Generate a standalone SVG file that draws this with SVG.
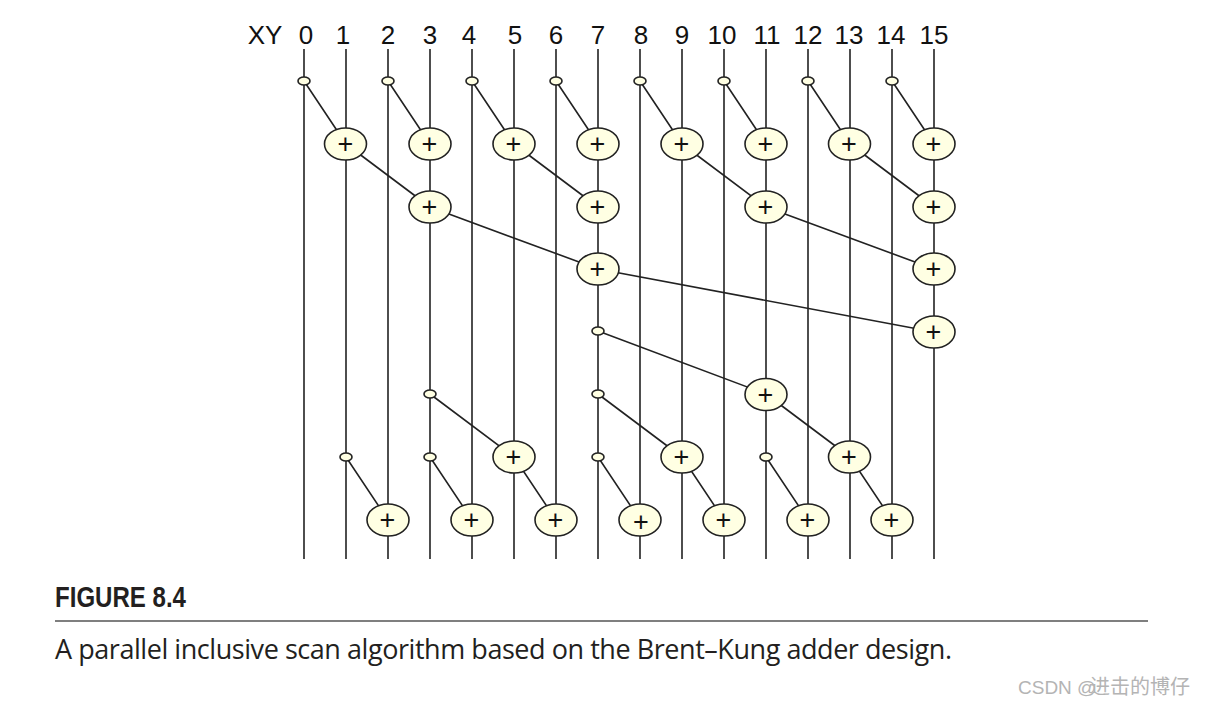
<svg xmlns="http://www.w3.org/2000/svg" width="1205" height="706" viewBox="0 0 1205 706">
<style>
.w{stroke:#222;stroke-width:1.6;fill:none}
.o{fill:#ffffe3;stroke:#222;stroke-width:1.6}
.p{font:27px "Liberation Sans",Arial,sans-serif;fill:#111;text-anchor:middle}
.h{font:26px "Liberation Sans",Arial,sans-serif;fill:#111;text-anchor:middle}
</style>
<rect width="1205" height="706" fill="#fff"/>
<g id="connectors" class="w">
<path d="M304 49V559M346 49V559M388 49V559M430 49V559M472 49V559M514 49V559M556 49V559M598 49V559M640 49V559M682 49V559M724 49V559M766 49V559M808 49V559M850 49V559M892 49V559M934 49V559"/>
<path d="M304 81L346 144M388 81L430 144M472 81L514 144M556 81L598 144M640 81L682 144M724 81L766 144M808 81L850 144M892 81L934 144"/>
<path d="M346 144L430 207M514 144L598 207M682 144L766 207M850 144L934 207"/>
<path d="M430 207L598 269M766 207L934 269M598 269L934 332"/>
<path d="M598 331L766 394M430 394L514 457M598 394L682 457M766 394L850 457"/>
<path d="M346 457L388 520M430 457L472 520M514 457L556 520M598 457L640 520M682 457L724 520M766 457L808 520M850 457L892 520"/>
</g>
<g id="headers" class="h">
<text x="265" y="44">XY</text><text x="306" y="44">0</text><text x="343" y="44">1</text><text x="388" y="44">2</text><text x="430" y="44">3</text><text x="469" y="44">4</text><text x="515" y="44">5</text><text x="556" y="44">6</text><text x="598" y="44">7</text><text x="641" y="44">8</text><text x="682" y="44">9</text><text x="722" y="44">10</text><text x="767" y="44">11</text><text x="808" y="44">12</text><text x="849" y="44">13</text><text x="891" y="44">14</text><text x="934" y="44">15</text>
</g>
<g id="dots" class="o">
<g id="d0"><ellipse cx="304" cy="81" rx="6" ry="4"/></g>
<g id="d2"><ellipse cx="388" cy="81" rx="6" ry="4"/></g>
<g id="d4"><ellipse cx="472" cy="81" rx="6" ry="4"/></g>
<g id="d6"><ellipse cx="556" cy="81" rx="6" ry="4"/></g>
<g id="d8"><ellipse cx="640" cy="81" rx="6" ry="4"/></g>
<g id="d10"><ellipse cx="724" cy="81" rx="6" ry="4"/></g>
<g id="d12"><ellipse cx="808" cy="81" rx="6" ry="4"/></g>
<g id="d14"><ellipse cx="892" cy="81" rx="6" ry="4"/></g>
<g id="d7a"><ellipse cx="598" cy="331" rx="6" ry="4"/></g>
<g id="d3a"><ellipse cx="430" cy="394" rx="6" ry="4"/></g>
<g id="d7b"><ellipse cx="598" cy="394" rx="6" ry="4"/></g>
<g id="d1c"><ellipse cx="346" cy="457" rx="6" ry="4"/></g>
<g id="d3c"><ellipse cx="430" cy="457" rx="6" ry="4"/></g>
<g id="d7c"><ellipse cx="598" cy="457" rx="6" ry="4"/></g>
<g id="d11c"><ellipse cx="766" cy="457" rx="6" ry="4"/></g>
</g>
<g id="adders">
<g id="a1-1"><ellipse class="o" cx="345.500" cy="144" rx="21" ry="16"/><text class="p" x="345.500" y="153">+</text></g>
<g id="a1-3"><ellipse class="o" cx="430" cy="144" rx="21" ry="16"/><text class="p" x="429.500" y="153">+</text></g>
<g id="a1-5"><ellipse class="o" cx="514" cy="144" rx="21" ry="16"/><text class="p" x="513.500" y="153">+</text></g>
<g id="a1-7"><ellipse class="o" cx="598" cy="144" rx="21" ry="16"/><text class="p" x="597.500" y="153">+</text></g>
<g id="a1-9"><ellipse class="o" cx="682" cy="144" rx="21" ry="16"/><text class="p" x="681.500" y="153">+</text></g>
<g id="a1-11"><ellipse class="o" cx="766" cy="144" rx="21" ry="16"/><text class="p" x="765.500" y="153">+</text></g>
<g id="a1-13"><ellipse class="o" cx="849.500" cy="144" rx="21" ry="16"/><text class="p" x="849" y="153">+</text></g>
<g id="a1-15"><ellipse class="o" cx="934" cy="144" rx="21" ry="16"/><text class="p" x="933.500" y="153">+</text></g>
<g id="a2-3"><ellipse class="o" cx="430" cy="207" rx="21" ry="16"/><text class="p" x="429.500" y="216">+</text></g>
<g id="a2-7"><ellipse class="o" cx="598" cy="207" rx="21" ry="16"/><text class="p" x="597.500" y="216">+</text></g>
<g id="a2-11"><ellipse class="o" cx="766" cy="207" rx="21" ry="16"/><text class="p" x="765.500" y="216">+</text></g>
<g id="a2-15"><ellipse class="o" cx="934" cy="207" rx="21" ry="16"/><text class="p" x="933.500" y="216">+</text></g>
<g id="a3-7"><ellipse class="o" cx="598" cy="269" rx="21" ry="16"/><text class="p" x="597.500" y="278">+</text></g>
<g id="a3-15"><ellipse class="o" cx="934" cy="269" rx="21" ry="16"/><text class="p" x="933.500" y="278">+</text></g>
<g id="a4-15"><ellipse class="o" cx="934" cy="332" rx="21" ry="16"/><text class="p" x="933.500" y="341">+</text></g>
<g id="a5-11"><ellipse class="o" cx="766" cy="394.500" rx="21" ry="16"/><text class="p" x="765.500" y="403.500">+</text></g>
<g id="a6-5"><ellipse class="o" cx="514" cy="457" rx="21" ry="16"/><text class="p" x="513.500" y="466">+</text></g>
<g id="a6-9"><ellipse class="o" cx="682" cy="457" rx="21" ry="16"/><text class="p" x="681.500" y="466">+</text></g>
<g id="a6-13"><ellipse class="o" cx="849.500" cy="457" rx="21" ry="16"/><text class="p" x="849" y="466">+</text></g>
<g id="a7-2"><ellipse class="o" cx="388" cy="520" rx="21" ry="16"/><text class="p" x="387.500" y="529">+</text></g>
<g id="a7-4"><ellipse class="o" cx="472" cy="520" rx="21" ry="16"/><text class="p" x="471.500" y="529">+</text></g>
<g id="a7-6"><ellipse class="o" cx="556" cy="520" rx="21" ry="16"/><text class="p" x="555.500" y="529">+</text></g>
<g id="a7-8"><ellipse class="o" cx="640" cy="520" rx="21" ry="16"/><text class="p" x="641" y="531">+</text></g>
<g id="a7-10"><ellipse class="o" cx="724" cy="520" rx="21" ry="16"/><text class="p" x="723.500" y="529">+</text></g>
<g id="a7-12"><ellipse class="o" cx="808" cy="520" rx="21" ry="16"/><text class="p" x="807.500" y="529">+</text></g>
<g id="a7-14"><ellipse class="o" cx="892" cy="520" rx="21" ry="16"/><text class="p" x="891.500" y="529">+</text></g>
</g>
<g id="caption">
<text x="55" y="607" font-family="'Liberation Sans',Arial,sans-serif" font-weight="700" font-size="29" fill="#231f20" textLength="131" lengthAdjust="spacingAndGlyphs">FIGURE 8.4</text>
<line x1="55" y1="621" x2="1148" y2="621" stroke="#555" stroke-width="1.3"/>
<text x="55" y="659" font-family="'Open Sans','Noto Sans',sans-serif" font-size="27" fill="#231f20" textLength="897" lengthAdjust="spacing">A parallel inclusive scan algorithm based on the Brent–Kung adder design.</text>
</g>
<text id="watermark" y="694" font-family="'Liberation Sans','Noto Sans CJK SC',sans-serif" font-size="19" fill="#b4b4b4"><tspan x="1018">CSDN @</tspan><tspan x="1090" font-size="20">进击的博仔</tspan></text>
</svg>
